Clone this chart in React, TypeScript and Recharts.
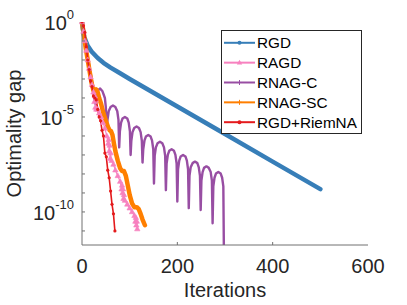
import React from 'react';
import { LineChart, Line, XAxis, YAxis, Label } from 'recharts';

// iterations and log10(optimality gap)
const RGD_ITER = [0, 2, 5, 8, 12, 20, 33, 45, 60, 80, 100, 200, 300, 400, 500];
const RGD_GAP = [0, -0.4, -0.8, -1.0, -1.25, -1.55, -1.9, -2.15, -2.4, -2.7, -3.0, -4.45, -5.9, -7.35, -8.8];

const RAGD_ITER = [0, 3, 6, 9, 12, 15, 18, 21, 24, 26, 27, 28, 29, 30, 33, 36, 40, 44, 48, 52, 55, 56, 57, 58, 59, 60, 62, 66, 70, 75, 80, 83, 84, 85, 86, 87, 88, 90, 95, 100, 105, 110, 112, 113, 114, 115, 116];
const RAGD_GAP = [0, -0.5, -1.0, -1.5, -2.0, -2.45, -2.9, -3.3, -3.7, -4.2, -3.9, -4.5, -4.1, -4.6, -4.6, -4.8, -5.0, -5.3, -5.6, -6.0, -6.4, -6.2, -6.8, -6.5, -7.2, -6.9, -7.3, -7.5, -7.8, -8.1, -8.4, -8.8, -8.6, -9.0, -8.8, -9.3, -9.1, -9.4, -9.6, -9.8, -10.0, -10.2, -10.5, -10.3, -10.7, -10.5, -10.9];

const RNAGC_ITER = [
  0, 4, 8, 12, 16, 20, 24, 28, 30, 33, 38, 43, 48, 50, 52,
  53.5, 56, 60, 65, 70, 74, 76.5, 78,
  79.5, 82, 85, 90, 95, 98, 100.5, 102,
  103.5, 106, 109.5, 114.5, 119.5, 123, 125.5, 127,
  128.5, 131, 134, 139, 144, 147, 149.5, 151,
  152.5, 155, 158.5, 163.5, 168.5, 172, 174.5, 176,
  177.5, 180, 183, 188, 193, 196, 198.5, 200,
  201.5, 204, 207, 212, 217, 220, 222.5, 224,
  225.5, 228, 232, 237, 242, 245, 247.5, 249,
  250.5, 253, 256, 261, 266, 270, 272.5, 274,
  275.5, 278, 281, 286, 291, 294, 296.5, 298,
];
const RNAGC_GAP = [
  0, -0.6, -1.2, -1.8, -2.4, -2.95, -3.5, -4.3, -3.9, -3.6, -3.5, -3.65, -4.0, -4.5, -5.5,
  -5.15, -4.7, -4.48, -4.4, -4.48, -4.7, -5.15, -6.6,
  -5.75, -5.3, -5.08, -5.0, -5.08, -5.3, -5.75, -7.0,
  -6.25, -5.8, -5.58, -5.5, -5.58, -5.8, -6.25, -7.4,
  -6.7, -6.25, -6.03, -5.95, -6.03, -6.25, -6.7, -8.5,
  -7.05, -6.6, -6.38, -6.3, -6.38, -6.6, -7.05, -8.85,
  -7.45, -7.0, -6.78, -6.7, -6.78, -7.0, -7.45, -9.45,
  -7.75, -7.3, -7.08, -7.0, -7.08, -7.3, -7.75, -9.8,
  -8.1, -7.65, -7.43, -7.35, -7.43, -7.65, -8.1, -9.9,
  -8.35, -7.9, -7.68, -7.6, -7.68, -7.9, -8.35, -10.6,
  -8.65, -8.2, -7.98, -7.9, -7.98, -8.2, -8.65, -13,
];

const RNAGSC_ITER = [0, 4, 8, 12, 16, 20, 24, 27, 30, 33, 36, 40, 45, 50, 55, 58, 61, 64, 67, 70, 75, 80, 84, 88, 92, 96, 100, 105, 110, 115, 119, 123, 127, 132];
const RNAGSC_GAP = [0, -0.7, -1.4, -2.0, -2.6, -3.2, -3.6, -3.7, -3.55, -3.7, -4.0, -4.3, -4.8, -5.2, -5.55, -5.7, -5.75, -5.95, -6.4, -6.8, -7.3, -7.7, -7.85, -7.85, -8.1, -8.6, -9.1, -9.55, -9.75, -9.75, -9.85, -10.1, -10.4, -10.7];

const RIEM_ITER = [0, 3, 6, 9, 12, 15, 18, 21, 24, 27, 30, 33, 36, 39, 42, 45, 48, 51, 54, 57, 60, 63, 66, 69];
const RIEM_GAP = [0, -0.2, -0.55, -1.3, -2.0, -2.5, -3.1, -3.4, -3.9, -4.0, -4.1, -4.6, -5.0, -5.2, -5.7, -6.0, -6.9, -7.1, -7.8, -8.2, -8.9, -9.6, -10.1, -11.0];

const X_TICKS = [0, 200, 400, 600];
const Y_TICKS = [0, -1, -2, -3, -4, -5, -6, -7, -8, -9, -10, -11];
const Y_LABELED = [0, -5, -10];

const toRows = (xs: number[], ys: number[]) => xs.map((x, i) => ({ x, y: ys[i] }));

const FONT = '"Liberation Sans", Arial, Helvetica, sans-serif';
const INK = '#262626';
const AXIS = '#707070';

const triangle = (color: string) => (p: any) => {
  if (p.cx == null || p.cy == null) return <g key={`t${p.index}`} />;
  return (
    <path
      key={`t${p.index}`}
      d={`M${p.cx},${p.cy - 3} L${p.cx + 2.7},${p.cy + 1.8} L${p.cx - 2.7},${p.cy + 1.8} Z`}
      fill={color}
      stroke={color}
      strokeWidth={0.6}
    />
  );
};

const smallDot = (color: string, r: number) => (p: any) => {
  if (p.cx == null || p.cy == null) return <g key={`d${p.index}`} />;
  return <circle key={`d${p.index}`} cx={p.cx} cy={p.cy} r={r} fill={color} />;
};

const series = [
  { name: 'RGD', color: '#377EB8', width: 4.5, data: toRows(RGD_ITER, RGD_GAP), dot: false as any, mark: 'dot' },
  { name: 'RAGD', color: '#F781BF', width: 1.2, data: toRows(RAGD_ITER, RAGD_GAP), dot: triangle('#F781BF'), mark: 'tri' },
  { name: 'RNAG-C', color: '#984EA3', width: 2.4, data: toRows(RNAGC_ITER, RNAGC_GAP), dot: false as any, mark: 'plus' },
  { name: 'RNAG-SC', color: '#FF7F00', width: 4.5, data: toRows(RNAGSC_ITER, RNAGSC_GAP), dot: false as any, mark: 'star' },
  { name: 'RGD+RiemNA', color: '#E41A1C', width: 1.6, data: toRows(RIEM_ITER, RIEM_GAP), dot: smallDot('#E41A1C', 1.6), mark: 'dot' },
];

function BottomTick(props: any) {
  const { x, y, payload } = props;
  const inner = payload.value !== 0 && payload.value !== 600;
  return (
    <g>
      {inner && <line x1={x} x2={x} y1={y} y2={y - 3} stroke={AXIS} />}
      <text x={x} y={y + 28} textAnchor="middle" fontSize={20} fill={INK} fontFamily={FONT}>
        {payload.value}
      </text>
    </g>
  );
}

function TopTick(props: any) {
  const { x, y, payload } = props;
  if (payload.value === 0 || payload.value === 600) return <g />;
  return <line x1={x} x2={x} y1={y} y2={y + 3} stroke={AXIS} />;
}

function LeftTick(props: any) {
  const { x, y, payload } = props;
  const v = payload.value;
  const edge = v === 0;
  return (
    <g>
      {!edge && <line x1={x} x2={x + 3} y1={y} y2={y} stroke={AXIS} />}
      {Y_LABELED.includes(v) && (
        <text x={x - 8} y={y + 8} textAnchor="end" fill={INK} fontFamily={FONT}>
          <tspan fontSize={20}>10</tspan>
          <tspan fontSize={13} dy={-11}>{v === 0 ? '0' : `-${-v}`}</tspan>
        </text>
      )}
    </g>
  );
}

function RightTick(props: any) {
  const { x, y, payload } = props;
  if (payload.value === 0) return <g />;
  return <line x1={x} x2={x - 3} y1={y} y2={y} stroke={AXIS} />;
}

function LegendBox() {
  const rowH = 19.85;
  return (
    <div
      style={{
        position: 'absolute',
        left: 221,
        top: 30,
        width: 139,
        height: 102,
        border: `1px solid ${INK}`,
        background: '#fff',
      }}
    >
      <svg width={139} height={102} style={{ display: 'block' }}>
        {series.map((s, i) => {
          const cy = 11.8 + i * rowH;
          return (
            <g key={s.name}>
              <line x1={2} x2={33} y1={cy} y2={cy} stroke={s.color} strokeWidth={2} />
              {s.mark === 'tri' && (
                <path d={`M17.5,${cy - 3} L20.2,${cy + 1.8} L14.8,${cy + 1.8} Z`} fill={s.color} />
              )}
              {s.mark === 'dot' && <circle cx={17.5} cy={cy} r={2} fill={s.color} />}
              {(s.mark === 'plus' || s.mark === 'star') && (
                <g stroke={s.color} strokeWidth={1}>
                  <line x1={17.5} x2={17.5} y1={cy - 2.5} y2={cy + 2.5} />
                  <line x1={15} x2={20} y1={cy} y2={cy} />
                </g>
              )}
              <text x={35} y={cy + 5.4} fontSize={15.3} fill="#000" fontFamily={FONT}>
                {s.name}
              </text>
            </g>
          );
        })}
      </svg>
    </div>
  );
}

export default function App() {
  return (
    <div style={{ position: 'absolute', left: 0, top: 0, width: 407, height: 305, background: '#fff', fontFamily: FONT }}>
      <LineChart width={407} height={305} margin={{ top: 22, right: 39, bottom: 0, left: 0 }}>
        <XAxis
          xAxisId="b"
          dataKey="x"
          type="number"
          domain={[0, 600]}
          ticks={X_TICKS}
          interval={0}
          height={60}
          tickSize={0}
          tickMargin={0}
          tickLine={false}
          axisLine={{ stroke: AXIS }}
          tick={<BottomTick />}
        >
          <Label
            content={(p: any) => {
              const vb = p.viewBox;
              return (
                <text x={vb.x + vb.width / 2} y={vb.y + 52} textAnchor="middle" fontSize={20} fill={INK} fontFamily={FONT}>
                  Iterations
                </text>
              );
            }}
          />
        </XAxis>
        <XAxis
          xAxisId="t"
          orientation="top"
          dataKey="x"
          type="number"
          domain={[0, 600]}
          ticks={X_TICKS}
          interval={0}
          height={0}
          tickSize={0}
          tickMargin={0}
          tickLine={false}
          axisLine={{ stroke: AXIS }}
          tick={<TopTick />}
        />
        <YAxis
          yAxisId="l"
          type="number"
          domain={[-11.74, 0]}
          allowDataOverflow
          ticks={Y_TICKS}
          interval={0}
          width={82}
          tickSize={0}
          tickMargin={0}
          tickLine={false}
          axisLine={{ stroke: AXIS }}
          tick={<LeftTick />}
        >
          <Label
            content={(p: any) => {
              const vb = p.viewBox;
              const cx = vb.x + 21;
              const cy = vb.y + vb.height / 2;
              return (
                <text x={cx} y={cy} transform={`rotate(-90 ${cx} ${cy})`} textAnchor="middle" fontSize={20} fill={INK} fontFamily={FONT}>
                  Optimality gap
                </text>
              );
            }}
          />
        </YAxis>
        <YAxis
          yAxisId="r"
          orientation="right"
          type="number"
          domain={[-11.74, 0]}
          allowDataOverflow
          ticks={Y_TICKS}
          interval={0}
          width={0}
          tickSize={0}
          tickMargin={0}
          tickLine={false}
          axisLine={{ stroke: AXIS }}
          tick={<RightTick />}
        />
        {series.map((s) => (
          <Line
            key={s.name}
            xAxisId="b"
            yAxisId="l"
            data={s.data}
            dataKey="y"
            type="linear"
            stroke={s.color}
            strokeWidth={s.width}
            strokeLinejoin="round"
            strokeLinecap="round"
            dot={s.dot}
            activeDot={false}
            isAnimationActive={false}
          />
        ))}
      </LineChart>
      <LegendBox />
    </div>
  );
}
